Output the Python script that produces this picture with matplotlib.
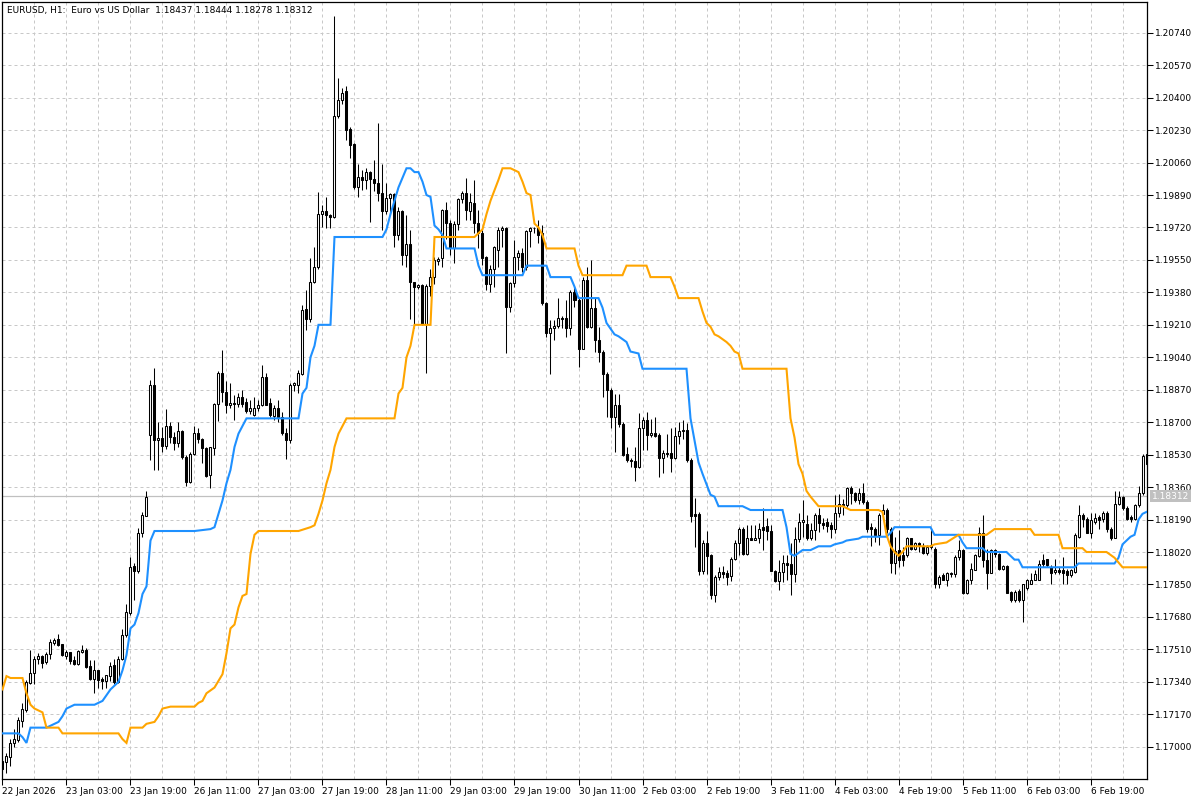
import numpy as np
import matplotlib.pyplot as plt
from matplotlib.transforms import blended_transform_factory

# EURUSD H1 candles (bar index = position)
opens = [
    1.16925, 1.16921, 1.16947, 1.17021, 1.17035, 1.17136, 1.17195, 1.17335, 1.17384, 1.17462,
    1.17475, 1.17445, 1.17488, 1.17544, 1.17562, 1.17537, 1.17476, 1.17494, 1.17453, 1.17431,
    1.17494, 1.17509, 1.17422, 1.17354, 1.17401, 1.17354, 1.17343, 1.17372, 1.17427, 1.17340,
    1.17462, 1.17585, 1.17702, 1.17946, 1.17922, 1.18117, 1.18208, 1.18633, 1.18894, 1.18606,
    1.18619, 1.18575, 1.18680, 1.18624, 1.18592, 1.18653, 1.18520, 1.18388, 1.18536, 1.18641,
    1.18610, 1.18563, 1.18423, 1.18563, 1.18795, 1.18956, 1.18860, 1.18790, 1.18802, 1.18793,
    1.18830, 1.18804, 1.18760, 1.18737, 1.18772, 1.18788, 1.18935, 1.18798, 1.18732, 1.18772,
    1.18725, 1.18641, 1.18606, 1.18894, 1.18894, 1.18955, 1.19291, 1.19238, 1.19435, 1.19514,
    1.19793, 1.19805, 1.19784, 1.19775, 1.20303, 1.20390, 1.20434, 1.20238, 1.20159, 1.19933,
    1.19982, 1.19968, 1.20008, 1.19976, 1.19954, 1.19900, 1.19807, 1.19872, 1.19893, 1.19680,
    1.19807, 1.19575, 1.19631, 1.19435, 1.19409, 1.19418, 1.19213, 1.19413, 1.19458, 1.19546,
    1.19561, 1.19814, 1.19741, 1.19615, 1.19737, 1.19867, 1.19901, 1.19807, 1.19849, 1.19744,
    1.19689, 1.19566, 1.19426, 1.19505, 1.19600, 1.19709, 1.19715, 1.19301, 1.19430, 1.19563,
    1.19584, 1.19514, 1.19702, 1.19715, 1.19718, 1.19690, 1.19323, 1.19168, 1.19191, 1.19203,
    1.19248, 1.19248, 1.19191, 1.19382, 1.19339, 1.19086, 1.19447, 1.19199, 1.19300, 1.19130,
    1.19069, 1.18955, 1.18868, 1.18725, 1.18789, 1.18693, 1.18532, 1.18501, 1.18496, 1.18463,
    1.18667, 1.18710, 1.18632, 1.18641, 1.18632, 1.18510, 1.18540, 1.18540, 1.18510, 1.18627,
    1.18655, 1.18660, 1.18501, 1.18218, 1.18218, 1.17921, 1.18068, 1.18003, 1.17794, 1.17890,
    1.17916, 1.17912, 1.17893, 1.17986, 1.18065, 1.18143, 1.18012, 1.18094, 1.18085, 1.18091,
    1.18152, 1.18154, 1.18130, 1.17921, 1.17869, 1.17916, 1.17963, 1.17959, 1.17907, 1.18086,
    1.18178, 1.18166, 1.18091, 1.18134, 1.18213, 1.18170, 1.18178, 1.18161, 1.18143, 1.18222,
    1.18274, 1.18265, 1.18353, 1.18327, 1.18292, 1.18327, 1.18283, 1.18152, 1.18143, 1.18108,
    1.18218, 1.18239, 1.18143, 1.17963, 1.18029, 1.18003, 1.18003, 1.18091, 1.18038, 1.18065,
    1.18051, 1.18016, 1.18047, 1.18038, 1.17855, 1.17899, 1.17876, 1.17908, 1.17904, 1.17995,
    1.18029, 1.17803, 1.17876, 1.17928, 1.17998, 1.18117, 1.17977, 1.17911, 1.18029, 1.18012,
    1.17933, 1.17945, 1.17812, 1.17768, 1.17817, 1.17768, 1.17829, 1.17855, 1.17876, 1.17876,
    1.17977, 1.17981, 1.17942, 1.17916, 1.17925, 1.17925, 1.17921, 1.17899, 1.17916, 1.18099,
    1.18213, 1.18191, 1.18120, 1.18178, 1.18204, 1.18191, 1.18222, 1.18138, 1.18096, 1.18271,
    1.18306, 1.18253, 1.18204, 1.18191, 1.18266, 1.18327, 1.18536,
]
highs = [
    1.16935, 1.16965, 1.17038, 1.17091, 1.17157, 1.17227, 1.17349, 1.17506, 1.17475, 1.17492,
    1.17480, 1.17497, 1.17562, 1.17567, 1.17593, 1.17540, 1.17506, 1.17497, 1.17475, 1.17506,
    1.17535, 1.17515, 1.17453, 1.17453, 1.17401, 1.17366, 1.17375, 1.17443, 1.17457, 1.17475,
    1.17619, 1.17750, 1.17992, 1.17960, 1.18147, 1.18231, 1.18339, 1.18921, 1.18982, 1.18702,
    1.18676, 1.18767, 1.18702, 1.18650, 1.18702, 1.18659, 1.18528, 1.18545, 1.18680, 1.18667,
    1.18615, 1.18571, 1.18571, 1.18802, 1.18970, 1.19078, 1.18915, 1.18907, 1.18842, 1.18851,
    1.18868, 1.18825, 1.18816, 1.18830, 1.18816, 1.18999, 1.18956, 1.18825, 1.18790, 1.18816,
    1.18755, 1.18667, 1.18903, 1.18908, 1.18976, 1.19313, 1.19395, 1.19558, 1.19618, 1.19907,
    1.19837, 1.19881, 1.19793, 1.20827, 1.20505, 1.20451, 1.20460, 1.20247, 1.20163, 1.20055,
    1.20020, 1.20029, 1.20015, 1.20075, 1.20265, 1.20055, 1.19954, 1.19901, 1.19901, 1.19828,
    1.19811, 1.19784, 1.19709, 1.19435, 1.19426, 1.19426, 1.19423, 1.19500, 1.19566, 1.19564,
    1.19819, 1.19854, 1.19758, 1.19755, 1.19872, 1.19912, 1.19977, 1.19898, 1.19968, 1.19811,
    1.19706, 1.19570, 1.19523, 1.19622, 1.19720, 1.19730, 1.19724, 1.19435, 1.19654, 1.19601,
    1.19615, 1.19706, 1.19724, 1.19724, 1.19758, 1.19732, 1.19332, 1.19234, 1.19234, 1.19353,
    1.19255, 1.19339, 1.19391, 1.19409, 1.19348, 1.19461, 1.19514, 1.19549, 1.19352, 1.19200,
    1.19078, 1.18964, 1.18877, 1.18850, 1.18850, 1.18702, 1.18571, 1.18511, 1.18571, 1.18749,
    1.18728, 1.18754, 1.18719, 1.18728, 1.18641, 1.18554, 1.18637, 1.18667, 1.18676, 1.18702,
    1.18714, 1.18696, 1.18510, 1.18301, 1.18230, 1.18082, 1.18130, 1.18012, 1.17899, 1.17943,
    1.17946, 1.17925, 1.17995, 1.18082, 1.18152, 1.18152, 1.18160, 1.18164, 1.18160, 1.18170,
    1.18248, 1.18196, 1.18160, 1.17928, 1.17977, 1.18003, 1.18003, 1.18065, 1.18152, 1.18222,
    1.18292, 1.18213, 1.18173, 1.18225, 1.18248, 1.18196, 1.18196, 1.18178, 1.18318, 1.18326,
    1.18300, 1.18362, 1.18365, 1.18335, 1.18353, 1.18379, 1.18292, 1.18170, 1.18152, 1.18222,
    1.18274, 1.18248, 1.18152, 1.18099, 1.18134, 1.18047, 1.18099, 1.18096, 1.18074, 1.18074,
    1.18065, 1.18056, 1.18148, 1.18047, 1.17899, 1.17908, 1.17916, 1.17916, 1.18003, 1.18082,
    1.18038, 1.17881, 1.17960, 1.18012, 1.18152, 1.18213, 1.18038, 1.18038, 1.18038, 1.18016,
    1.17951, 1.17951, 1.17817, 1.17820, 1.17824, 1.17855, 1.17881, 1.17908, 1.17925, 1.17977,
    1.18012, 1.17986, 1.17951, 1.17986, 1.17942, 1.17995, 1.17933, 1.17933, 1.18117, 1.18266,
    1.18222, 1.18204, 1.18222, 1.18225, 1.18213, 1.18236, 1.18236, 1.18152, 1.18341, 1.18341,
    1.18313, 1.18260, 1.18213, 1.18274, 1.18365, 1.18536, 1.18606,
]
lows = [
    1.16880, 1.16865, 1.16900, 1.17000, 1.17026, 1.17105, 1.17183, 1.17328, 1.17331, 1.17436,
    1.17410, 1.17436, 1.17462, 1.17532, 1.17527, 1.17475, 1.17457, 1.17432, 1.17427, 1.17427,
    1.17492, 1.17410, 1.17349, 1.17282, 1.17310, 1.17300, 1.17310, 1.17342, 1.17331, 1.17335,
    1.17453, 1.17576, 1.17690, 1.17768, 1.17908, 1.18100, 1.18208, 1.18502, 1.18449, 1.18449,
    1.18545, 1.18557, 1.18589, 1.18554, 1.18571, 1.18507, 1.18367, 1.18383, 1.18528, 1.18592,
    1.18488, 1.18411, 1.18353, 1.18528, 1.18708, 1.18807, 1.18750, 1.18772, 1.18711, 1.18781,
    1.18781, 1.18750, 1.18743, 1.18732, 1.18760, 1.18784, 1.18788, 1.18725, 1.18711, 1.18702,
    1.18633, 1.18505, 1.18589, 1.18866, 1.18851, 1.18945, 1.19182, 1.19226, 1.19430, 1.19505,
    1.19723, 1.19715, 1.19715, 1.19767, 1.20296, 1.20369, 1.20177, 1.20086, 1.19924, 1.19877,
    1.19915, 1.19919, 1.19749, 1.19912, 1.19860, 1.19706, 1.19793, 1.19793, 1.19619, 1.19656,
    1.19523, 1.19514, 1.19243, 1.19191, 1.19396, 1.19208, 1.18958, 1.19360, 1.19426, 1.19522,
    1.19514, 1.19662, 1.19575, 1.19535, 1.19706, 1.19846, 1.19758, 1.19758, 1.19689, 1.19610,
    1.19523, 1.19392, 1.19383, 1.19409, 1.19514, 1.19620, 1.19064, 1.19278, 1.19409, 1.19497,
    1.19488, 1.19497, 1.19619, 1.19690, 1.19639, 1.19314, 1.19147, 1.18952, 1.19130, 1.19191,
    1.19191, 1.19147, 1.19156, 1.19305, 1.18990, 1.19081, 1.19191, 1.19191, 1.19070, 1.19016,
    1.18833, 1.18725, 1.18667, 1.18545, 1.18676, 1.18524, 1.18492, 1.18466, 1.18393, 1.18458,
    1.18554, 1.18554, 1.18624, 1.18624, 1.18414, 1.18432, 1.18519, 1.18440, 1.18505, 1.18588,
    1.18611, 1.18492, 1.18178, 1.18047, 1.17899, 1.17904, 1.17904, 1.17776, 1.17759, 1.17873,
    1.17882, 1.17846, 1.17869, 1.17977, 1.18003, 1.18003, 1.18003, 1.18082, 1.18082, 1.18065,
    1.18030, 1.18082, 1.17921, 1.17864, 1.17820, 1.17864, 1.17873, 1.17794, 1.17864, 1.18074,
    1.18100, 1.18082, 1.18082, 1.18082, 1.18126, 1.18143, 1.18126, 1.18091, 1.18121, 1.18205,
    1.18213, 1.18257, 1.18274, 1.18283, 1.18274, 1.18274, 1.18126, 1.18050, 1.18073, 1.18056,
    1.18187, 1.18117, 1.17908, 1.17904, 1.17942, 1.17947, 1.17995, 1.18033, 1.18029, 1.18021,
    1.18012, 1.18003, 1.18038, 1.17829, 1.17829, 1.17873, 1.17841, 1.17890, 1.17890, 1.17977,
    1.17799, 1.17799, 1.17855, 1.17925, 1.17995, 1.17942, 1.17824, 1.17908, 1.17995, 1.17928,
    1.17925, 1.17803, 1.17759, 1.17759, 1.17759, 1.17654, 1.17820, 1.17852, 1.17873, 1.17873,
    1.17942, 1.17942, 1.17855, 1.17904, 1.17904, 1.17855, 1.17855, 1.17890, 1.17911, 1.18091,
    1.18152, 1.18117, 1.18096, 1.18169, 1.18143, 1.18178, 1.18126, 1.18082, 1.18091, 1.18266,
    1.18239, 1.18187, 1.18178, 1.18187, 1.18257, 1.18318, 1.18470,
]
closes = [
    1.16886, 1.16953, 1.17021, 1.17038, 1.17140, 1.17199, 1.17338, 1.17387, 1.17462, 1.17475,
    1.17439, 1.17488, 1.17549, 1.17558, 1.17532, 1.17480, 1.17494, 1.17448, 1.17431, 1.17502,
    1.17509, 1.17419, 1.17356, 1.17401, 1.17349, 1.17343, 1.17375, 1.17424, 1.17340, 1.17462,
    1.17585, 1.17707, 1.17943, 1.17922, 1.18117, 1.18213, 1.18306, 1.18894, 1.18606, 1.18619,
    1.18575, 1.18680, 1.18624, 1.18592, 1.18653, 1.18516, 1.18388, 1.18536, 1.18641, 1.18610,
    1.18563, 1.18418, 1.18568, 1.18795, 1.18956, 1.18860, 1.18790, 1.18802, 1.18795, 1.18830,
    1.18795, 1.18760, 1.18772, 1.18772, 1.18788, 1.18935, 1.18790, 1.18737, 1.18772, 1.18725,
    1.18641, 1.18606, 1.18894, 1.18905, 1.18959, 1.19287, 1.19238, 1.19435, 1.19514, 1.19793,
    1.19805, 1.19784, 1.19775, 1.20303, 1.20390, 1.20425, 1.20233, 1.20154, 1.19933, 1.19982,
    1.19968, 1.20008, 1.19976, 1.19954, 1.19900, 1.19807, 1.19872, 1.19893, 1.19680, 1.19807,
    1.19575, 1.19631, 1.19435, 1.19409, 1.19418, 1.19213, 1.19413, 1.19458, 1.19552, 1.19556,
    1.19814, 1.19741, 1.19615, 1.19737, 1.19867, 1.19901, 1.19811, 1.19851, 1.19744, 1.19689,
    1.19560, 1.19426, 1.19505, 1.19618, 1.19709, 1.19718, 1.19305, 1.19430, 1.19563, 1.19584,
    1.19514, 1.19702, 1.19715, 1.19718, 1.19679, 1.19323, 1.19168, 1.19191, 1.19203, 1.19248,
    1.19243, 1.19191, 1.19382, 1.19339, 1.19086, 1.19447, 1.19199, 1.19300, 1.19130, 1.19069,
    1.18955, 1.18868, 1.18725, 1.18789, 1.18693, 1.18527, 1.18501, 1.18496, 1.18463, 1.18667,
    1.18710, 1.18632, 1.18641, 1.18627, 1.18510, 1.18540, 1.18535, 1.18510, 1.18627, 1.18655,
    1.18660, 1.18501, 1.18208, 1.18208, 1.17921, 1.18068, 1.17998, 1.17794, 1.17890, 1.17916,
    1.17903, 1.17890, 1.17986, 1.18065, 1.18143, 1.18012, 1.18094, 1.18085, 1.18094, 1.18138,
    1.18134, 1.18130, 1.17921, 1.17869, 1.17916, 1.17963, 1.17951, 1.17907, 1.18086, 1.18178,
    1.18187, 1.18091, 1.18134, 1.18213, 1.18170, 1.18161, 1.18156, 1.18143, 1.18222, 1.18274,
    1.18265, 1.18353, 1.18327, 1.18292, 1.18327, 1.18283, 1.18138, 1.18138, 1.18108, 1.18213,
    1.18239, 1.18143, 1.17963, 1.18026, 1.17977, 1.17977, 1.18091, 1.18038, 1.18065, 1.18051,
    1.18016, 1.18047, 1.18056, 1.17855, 1.17890, 1.17876, 1.17908, 1.17904, 1.17995, 1.18029,
    1.17803, 1.17876, 1.17933, 1.18003, 1.18117, 1.17977, 1.17911, 1.18029, 1.18012, 1.17933,
    1.17945, 1.17806, 1.17768, 1.17812, 1.17768, 1.17852, 1.17876, 1.17876, 1.17904, 1.17956,
    1.17956, 1.17951, 1.17908, 1.17925, 1.17916, 1.17908, 1.17899, 1.17925, 1.18108, 1.18213,
    1.18191, 1.18120, 1.18187, 1.18196, 1.18187, 1.18222, 1.18138, 1.18096, 1.18271, 1.18306,
    1.18253, 1.18194, 1.18191, 1.18266, 1.18330, 1.18522, 1.18480,
]

# indicator lines: (bar, value) vertices
blue_bar = [0, 4, 5, 6, 7, 11, 12, 13, 14, 15, 16, 17, 18, 23, 24, 25, 26, 27, 28, 29,
            30, 31, 32, 33, 34, 35, 36, 37, 38, 48, 52, 53, 54, 55, 56, 57, 58, 59, 60, 61,
            74, 75, 76, 77, 78, 79, 82, 83, 95, 96, 97, 98, 99, 100, 101, 102, 103, 104, 105, 106,
            107, 108, 109, 110, 111, 118, 119, 120, 130, 131, 136, 137, 142, 143, 144, 149, 150, 151, 153, 154,
            156, 157, 159, 160, 171, 172, 174, 175, 177, 178, 179, 185, 187, 195, 196, 197, 198, 200, 202, 204,
            207, 208, 210, 211, 214, 215, 221, 222, 223, 232, 233, 239, 240, 241, 245, 246, 251, 253, 254, 255,
            268, 269, 278, 279, 280, 282, 283, 284, 285, 286]
blue_val = [1.1707, 1.1707, 1.1705, 1.1702, 1.1710, 1.1710, 1.1711, 1.1712, 1.1713, 1.1716,
            1.1720, 1.1721, 1.1722, 1.1722, 1.1723, 1.1724, 1.1727, 1.1730, 1.1732, 1.1734,
            1.1740, 1.1748, 1.1762, 1.1764, 1.1770, 1.1780, 1.1784, 1.1808, 1.1813, 1.1813,
            1.1814, 1.1815, 1.1822, 1.1829, 1.1838, 1.1845, 1.1857, 1.1864, 1.1868, 1.1872,
            1.1872, 1.1885, 1.1888, 1.1904, 1.1910, 1.1921, 1.1921, 1.1967, 1.1967, 1.1971,
            1.1979, 1.1986, 1.1993, 1.1998, 1.2003, 1.2003, 1.2001, 1.2001, 1.1996, 1.1989,
            1.1988, 1.1973, 1.1971, 1.1968, 1.1961, 1.1961, 1.1952, 1.1947, 1.1947, 1.1952,
            1.1952, 1.1946, 1.1946, 1.1941, 1.1935, 1.1935, 1.1930, 1.1922, 1.1916, 1.1915,
            1.1912, 1.1907, 1.1906, 1.1898, 1.1898, 1.1872, 1.1849, 1.1843, 1.1832, 1.1831,
            1.1826, 1.1826, 1.1824, 1.1824, 1.1815, 1.1801, 1.1800, 1.1803, 1.1803, 1.1805,
            1.1805, 1.1806, 1.1807, 1.1808, 1.1809, 1.1810, 1.1810, 1.1812, 1.1815, 1.1815,
            1.1811, 1.1811, 1.1807, 1.1804, 1.1804, 1.1802, 1.1802, 1.1798, 1.1798, 1.1794,
            1.1794, 1.1796, 1.1796, 1.1799, 1.1806, 1.1810, 1.1811, 1.1819, 1.1822, 1.1823]

orange_bar = [0, 1, 2, 5, 6, 7, 8, 10, 11, 14, 15, 29, 30, 31, 32, 35, 36, 38, 39, 40,
              42, 48, 49, 50, 51, 53, 55, 56, 57, 58, 59, 60, 61, 62, 63, 64, 74, 77, 78, 79,
              80, 81, 82, 83, 84, 85, 86, 98, 99, 100, 101, 102, 103, 107, 108, 118, 120, 121, 122, 124,
              125, 127, 129, 130, 131, 132, 133, 134, 135, 136, 143, 144, 145, 155, 156, 161, 162, 167, 168, 169,
              174, 175, 176, 177, 178, 179, 181, 182, 183, 184, 185, 196, 197, 198, 199, 200, 201, 202, 204, 210,
              212, 219, 220, 221, 222, 223, 224, 225, 226, 232, 233, 236, 239, 246, 248, 257, 258, 264, 265, 270,
              271, 276, 278, 280, 286]
orange_val = [1.1730, 1.1737, 1.1736, 1.1736, 1.1728, 1.1722, 1.1720, 1.1718, 1.1710, 1.1710,
              1.1707, 1.1707, 1.1704, 1.1702, 1.1710, 1.1710, 1.1712, 1.1713, 1.1716, 1.1720,
              1.1721, 1.1721, 1.1723, 1.1724, 1.1728, 1.1731, 1.1738, 1.1749, 1.1762, 1.1764,
              1.1773, 1.1779, 1.1780, 1.1801, 1.1811, 1.1813, 1.1813, 1.1815, 1.1816, 1.1822,
              1.1829, 1.1838, 1.1845, 1.1857, 1.1864, 1.1868, 1.1872, 1.1872, 1.1885, 1.1888,
              1.1904, 1.1910, 1.1921, 1.1921, 1.1967, 1.1967, 1.1971, 1.1979, 1.1986, 1.1997,
              1.2003, 1.2003, 1.2001, 1.1996, 1.1990, 1.1989, 1.1974, 1.1972, 1.1968, 1.1961,
              1.1961, 1.1952, 1.1947, 1.1947, 1.1952, 1.1952, 1.1946, 1.1946, 1.1941, 1.1935,
              1.1935, 1.1928, 1.1922, 1.1920, 1.1916, 1.1915, 1.1912, 1.1910, 1.1907, 1.1906,
              1.1898, 1.1898, 1.1872, 1.1862, 1.1848, 1.1843, 1.1834, 1.1831, 1.1826, 1.1826,
              1.1824, 1.1824, 1.1823, 1.1811, 1.1805, 1.1802, 1.1800, 1.1802, 1.1805, 1.1805,
              1.1806, 1.1807, 1.1811, 1.1811, 1.1814, 1.1814, 1.1811, 1.1811, 1.1804, 1.1804,
              1.1802, 1.1802, 1.1799, 1.1794, 1.1794]

price_ticks = [1.17000, 1.17170, 1.17340, 1.17510, 1.17680, 1.17850, 1.18020, 1.18190,
               1.18360, 1.18530, 1.18700, 1.18870, 1.19040, 1.19210, 1.19380, 1.19550,
               1.19720, 1.19890, 1.20060, 1.20230, 1.20400, 1.20570, 1.20740]
time_tick_bars = [0, 16, 32, 48, 64, 80, 96, 112, 128, 144, 160, 176, 192, 208, 224, 240, 256, 272]
time_tick_labels = ['22 Jan 2026', '23 Jan 03:00', '23 Jan 19:00', '26 Jan 11:00', '27 Jan 03:00',
                    '27 Jan 19:00', '28 Jan 11:00', '29 Jan 03:00', '29 Jan 19:00', '30 Jan 11:00',
                    '2 Feb 03:00', '2 Feb 19:00', '3 Feb 11:00', '4 Feb 03:00', '4 Feb 19:00',
                    '5 Feb 11:00', '6 Feb 03:00', '6 Feb 19:00']
grid_bars = list(range(0, 288, 8))
last_price = 1.18312
header = 'EURUSD, H1:  Euro vs US Dollar  1.18437 1.18444 1.18278 1.18312'

o = np.array(opens)
h = np.array(highs)
l = np.array(lows)
c = np.array(closes)
x = np.arange(len(o))
bull = c >= o

plt.rcParams['font.family'] = 'DejaVu Sans'
fig = plt.figure(figsize=(12, 8), dpi=100)
ax = fig.add_axes([2 / 1200, 21 / 800, 1145 / 1200, 777 / 800])

grid_kw = dict(color='#c8c8c8', lw=0.72, linestyle=(0, (3, 3)), zorder=0)
for gb in grid_bars:
    ax.axvline(gb, **grid_kw)
for pt in price_ticks:
    ax.axhline(pt, **grid_kw)

ax.axhline(last_price, color='#c0c0c0', lw=0.9, zorder=1)

# candles
ax.vlines(x, l, h, color='black', lw=0.75, zorder=3)
body_low = np.minimum(o, c)
body_h = np.maximum(np.abs(c - o), 1e-6)
ax.bar(x, body_h, bottom=body_low, width=0.5,
       color=np.where(bull, 'white', 'black'), edgecolor='black', linewidth=0.75, zorder=4)

ax.plot(blue_bar, blue_val, color='#1e90ff', lw=1.5, zorder=5, solid_joinstyle='miter')
ax.plot(orange_bar, orange_val, color='#ffa500', lw=1.5, zorder=5, solid_joinstyle='miter')

ax.set_xlim(-0.12, 286.12)
ax.set_ylim(1.16831, 1.20901)

ax.yaxis.tick_right()
ax.set_yticks(price_ticks)
ax.set_yticklabels(['%.5f' % v for v in price_ticks])
ax.set_xticks(time_tick_bars)
ax.set_xticklabels(time_tick_labels)
for lab in ax.get_xticklabels():
    lab.set_horizontalalignment('left')
ax.tick_params(axis='both', direction='out', length=4, width=0.75, labelsize=6.5,
               colors='black', pad=2)
for sp in ax.spines.values():
    sp.set_color('black')
    sp.set_linewidth(0.9)

ax.text(5 / 1145, 1 - 8 / 777, header, transform=ax.transAxes, fontsize=6.5,
        ha='left', va='center', color='black')

tr = blended_transform_factory(ax.transAxes, ax.transData)
ax.text(1 + 5 / 1145, last_price, '%.5f' % last_price, transform=tr, fontsize=6.5,
        ha='left', va='center', color='white', clip_on=False,
        bbox=dict(facecolor='#c0c0c0', edgecolor='none', pad=1.2))

fig.savefig('out.png', dpi=100, facecolor='white')
